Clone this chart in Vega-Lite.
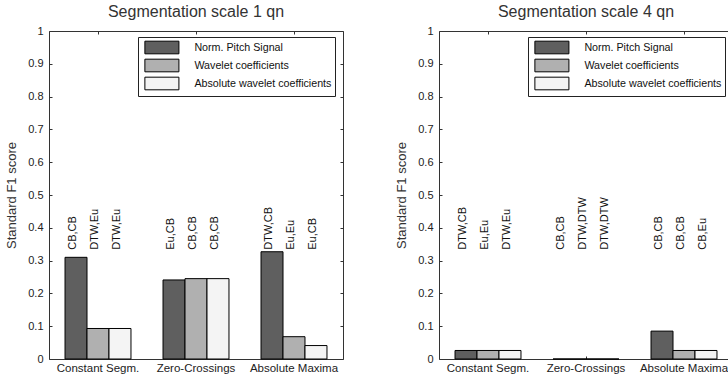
{
  "$schema": "https://vega.github.io/schema/vega-lite/v6.json",
  "background": "white",
  "padding": {"left": 5, "top": 3, "right": 0, "bottom": 0},
  "config": {
    "font": "Liberation Sans",
    "view": {"stroke": "#333333", "strokeWidth": 1},
    "title": {"fontSize": 16, "fontWeight": "normal", "color": "#333333", "offset": 5},
    "axis": {
      "domain": false, "grid": false, "tickColor": "#333333", "tickSize": 3, "offset": -3,
      "labelColor": "#222222", "labelFontSize": 11, "titleFontWeight": "normal",
      "titleFontSize": 13, "titleColor": "#333333", "labelOverlap": false
    },
    "legend": {
      "orient": "none", "legendX": 89, "legendY": 6, "strokeColor": "#222222", "fillColor": "white",
      "padding": 3.5, "labelFontSize": 10.7, "labelColor": "#111111",
      "symbolType": "M-2.69,-1H2.69V1H-2.69Z", "symbolSize": 160, "symbolStrokeColor": "black",
      "symbolStrokeWidth": 1, "symbolOpacity": 1, "rowPadding": 0, "symbolOffset": 13.4, "labelOffset": 25.5,
      "title": null, "labelExpr": "datum.label + '  '"
    }
  },
  "datasets": {
    "scores": [
      {"panel": "1", "group": "Constant Segm.", "series": "Norm. Pitch Signal", "value": 0.31, "label": "CB,CB"},
      {"panel": "1", "group": "Constant Segm.", "series": "Wavelet coefficients", "value": 0.093, "label": "DTW,Eu"},
      {"panel": "1", "group": "Constant Segm.", "series": "Absolute wavelet coefficients", "value": 0.093, "label": "DTW,Eu"},
      {"panel": "1", "group": "Zero-Crossings", "series": "Norm. Pitch Signal", "value": 0.241, "label": "Eu,CB"},
      {"panel": "1", "group": "Zero-Crossings", "series": "Wavelet coefficients", "value": 0.245, "label": "CB,CB"},
      {"panel": "1", "group": "Zero-Crossings", "series": "Absolute wavelet coefficients", "value": 0.245, "label": "CB,CB"},
      {"panel": "1", "group": "Absolute Maxima", "series": "Norm. Pitch Signal", "value": 0.327, "label": "DTW,CB"},
      {"panel": "1", "group": "Absolute Maxima", "series": "Wavelet coefficients", "value": 0.068, "label": "Eu,Eu"},
      {"panel": "1", "group": "Absolute Maxima", "series": "Absolute wavelet coefficients", "value": 0.041, "label": "Eu,CB"},
      {"panel": "4", "group": "Constant Segm.", "series": "Norm. Pitch Signal", "value": 0.026, "label": "DTW,CB"},
      {"panel": "4", "group": "Constant Segm.", "series": "Wavelet coefficients", "value": 0.026, "label": "Eu,Eu"},
      {"panel": "4", "group": "Constant Segm.", "series": "Absolute wavelet coefficients", "value": 0.026, "label": "DTW,Eu"},
      {"panel": "4", "group": "Zero-Crossings", "series": "Norm. Pitch Signal", "value": 0, "label": "CB,CB"},
      {"panel": "4", "group": "Zero-Crossings", "series": "Wavelet coefficients", "value": 0, "label": "DTW,DTW"},
      {"panel": "4", "group": "Zero-Crossings", "series": "Absolute wavelet coefficients", "value": 0, "label": "DTW,DTW"},
      {"panel": "4", "group": "Absolute Maxima", "series": "Norm. Pitch Signal", "value": 0.085, "label": "CB,CB"},
      {"panel": "4", "group": "Absolute Maxima", "series": "Wavelet coefficients", "value": 0.026, "label": "CB,CB"},
      {"panel": "4", "group": "Absolute Maxima", "series": "Absolute wavelet coefficients", "value": 0.026, "label": "CB,Eu"}
    ]
  },
  "resolve": {"scale": {"color": "independent"}, "legend": {"color": "independent"}},
  "spacing": 96,
  "bounds": "flush",
  "hconcat": [
    {
      "width": 294, "height": 328,
      "title": "Segmentation scale 1 qn",
      "data": {"name": "scores"},
      "transform": [{"filter": "datum.panel === '1'"}],
      "encoding": {
        "xOffset": {"field": "series", "sort": ["Norm. Pitch Signal", "Wavelet coefficients", "Absolute wavelet coefficients"]}
      },
      "resolve": {"axis": {"x": "independent", "y": "independent"}},
      "layer": [
        {
          "mark": {"type": "bar", "stroke": "black", "strokeWidth": 1},
          "encoding": {
            "x": {"field": "group", "type": "nominal", "sort": ["Constant Segm.", "Zero-Crossings", "Absolute Maxima"],
              "scale": {"paddingInner": 0.327, "paddingOuter": 0.1635},
              "axis": {"orient": "bottom", "title": null, "labelAngle": 0, "labelFontSize": 11.5, "labelPadding": 3}},
            "y": {"field": "value", "type": "quantitative", "scale": {"domain": [0, 1]},
              "axis": {"orient": "left", "title": "Standard F1 score", "values": [0, 0.1, 0.2, 0.3, 0.4, 0.5, 0.6, 0.7, 0.8, 0.9, 1], "labelPadding": 6, "titlePadding": 9, "labelExpr": "datum.value == 0 || datum.value == 1 ? format(datum.value, 'd') : format(datum.value, '.1f')"}},
            "color": {"field": "series", "type": "nominal",
              "sort": ["Norm. Pitch Signal", "Wavelet coefficients", "Absolute wavelet coefficients"],
              "scale": {"range": ["#5f5f5f", "#b0b0b0", "#f4f4f4"]}}
          }
        },
        {
          "mark": {"type": "text", "angle": 270, "align": "left", "baseline": "alphabetic", "fontSize": 11, "color": "#111111"},
          "encoding": {
            "x": {"field": "group", "type": "nominal", "sort": ["Constant Segm.", "Zero-Crossings", "Absolute Maxima"],
              "axis": {"orient": "top", "title": null, "labels": false}},
            "y": {"datum": 0.333, "type": "quantitative",
              "axis": {"orient": "right", "title": null, "labels": false, "values": [0, 0.1, 0.2, 0.3, 0.4, 0.5, 0.6, 0.7, 0.8, 0.9, 1]}},
            "text": {"field": "label"}
          }
        }
      ]
    },
    {
      "width": 294, "height": 328,
      "title": "Segmentation scale 4 qn",
      "data": {"name": "scores"},
      "transform": [{"filter": "datum.panel === '4'"}],
      "encoding": {
        "xOffset": {"field": "series", "sort": ["Norm. Pitch Signal", "Wavelet coefficients", "Absolute wavelet coefficients"]}
      },
      "resolve": {"axis": {"x": "independent", "y": "independent"}},
      "layer": [
        {
          "mark": {"type": "bar", "stroke": "black", "strokeWidth": 1},
          "encoding": {
            "x": {"field": "group", "type": "nominal", "sort": ["Constant Segm.", "Zero-Crossings", "Absolute Maxima"],
              "scale": {"paddingInner": 0.327, "paddingOuter": 0.1635},
              "axis": {"orient": "bottom", "title": null, "labelAngle": 0, "labelFontSize": 11.5, "labelPadding": 3}},
            "y": {"field": "value", "type": "quantitative", "scale": {"domain": [0, 1]},
              "axis": {"orient": "left", "title": "Standard F1 score", "values": [0, 0.1, 0.2, 0.3, 0.4, 0.5, 0.6, 0.7, 0.8, 0.9, 1], "labelPadding": 6, "titlePadding": 9, "labelExpr": "datum.value == 0 || datum.value == 1 ? format(datum.value, 'd') : format(datum.value, '.1f')"}},
            "color": {"field": "series", "type": "nominal",
              "sort": ["Norm. Pitch Signal", "Wavelet coefficients", "Absolute wavelet coefficients"],
              "scale": {"range": ["#5f5f5f", "#b0b0b0", "#f4f4f4"]}}
          }
        },
        {
          "mark": {"type": "text", "angle": 270, "align": "left", "baseline": "alphabetic", "fontSize": 11, "color": "#111111"},
          "encoding": {
            "x": {"field": "group", "type": "nominal", "sort": ["Constant Segm.", "Zero-Crossings", "Absolute Maxima"],
              "axis": {"orient": "top", "title": null, "labels": false}},
            "y": {"datum": 0.333, "type": "quantitative",
              "axis": {"orient": "right", "title": null, "labels": false, "values": [0, 0.1, 0.2, 0.3, 0.4, 0.5, 0.6, 0.7, 0.8, 0.9, 1]}},
            "text": {"field": "label"}
          }
        }
      ]
    }
  ]
}
